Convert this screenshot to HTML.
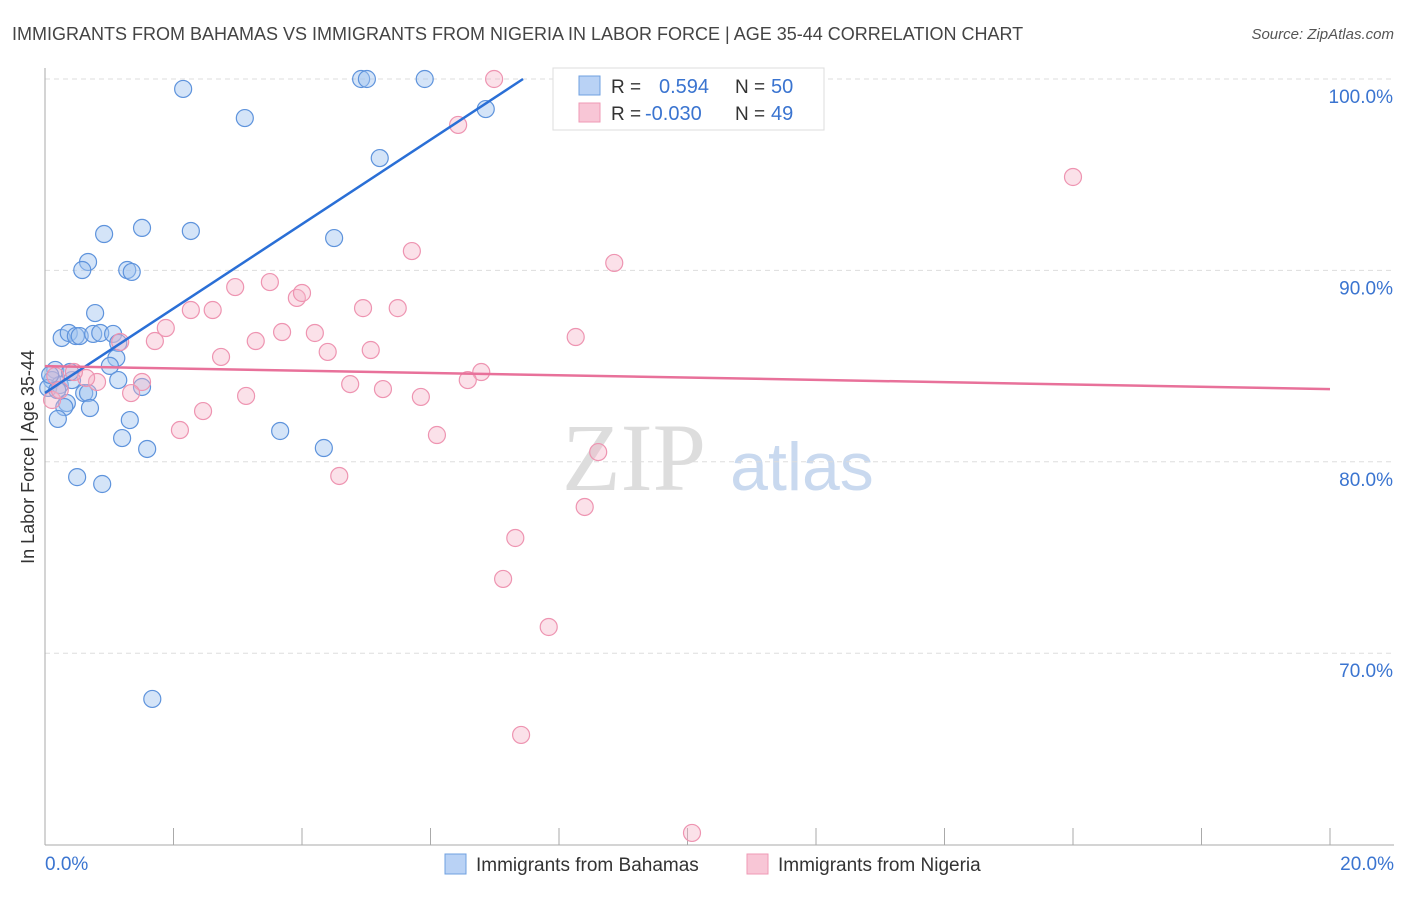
<!DOCTYPE html>
<html><head><meta charset="utf-8"><style>
body{margin:0;background:#fff;font-family:"Liberation Sans",sans-serif;}
svg text{font-family:"Liberation Sans",sans-serif;}
</style></head><body>
<svg id="chart" width="1406" height="892" viewBox="0 0 1406 892">
<text x="12" y="40" font-size="18" fill="#444">IMMIGRANTS FROM BAHAMAS VS IMMIGRANTS FROM NIGERIA IN LABOR FORCE | AGE 35-44 CORRELATION CHART</text>
<text x="1394" y="39" font-size="15" fill="#555" text-anchor="end" font-style="italic">Source: ZipAtlas.com</text>
<text x="634" y="490" font-size="96" fill="#ddd" text-anchor="middle" font-family="Liberation Serif" style="font-family:'Liberation Serif',serif">ZIP</text>
<text x="802" y="490" font-size="68" fill="#c9d9ef" text-anchor="middle">atlas</text>
<g id="grid"></g><g id="axes"></g><g id="pts"></g><g id="lines"></g>
<text transform="translate(34,457) rotate(-90)" font-size="18" fill="#333" text-anchor="middle">In Labor Force | Age 35-44</text>
<g>
<rect x="553" y="68" width="271" height="62" fill="#fff" stroke="#ddd"/>
<rect x="579" y="76" width="21" height="19" fill="#b9d2f5" stroke="#6fa0e0"/>
<rect x="579" y="103" width="21" height="19" fill="#f8c6d6" stroke="#ef9ab5"/>
<text x="611" y="93" font-size="19" fill="#333">R =</text><text x="659" y="93" font-size="20" fill="#3a74d0">0.594</text>
<text x="735" y="93" font-size="19" fill="#333">N =</text><text x="771" y="93" font-size="20" fill="#3a74d0">50</text>
<text x="611" y="120" font-size="19" fill="#333">R =</text><text x="645" y="120" font-size="20" fill="#3a74d0">-0.030</text>
<text x="735" y="120" font-size="19" fill="#333">N =</text><text x="771" y="120" font-size="20" fill="#3a74d0">49</text>
</g>
<g>
<rect x="445" y="854" width="21" height="20" fill="#b9d2f5" stroke="#6fa0e0"/>
<text x="476" y="871" font-size="19" fill="#333">Immigrants from Bahamas</text>
<rect x="747" y="854" width="21" height="20" fill="#f8c6d6" stroke="#ef9ab5"/>
<text x="778" y="871" font-size="19" fill="#333">Immigrants from Nigeria</text>
</g>
</svg>
<script>
const yTicks=[100,90,80,70];
const yTickLabels=["100.0%","90.0%","80.0%","70.0%"];
const xTicks=[0,2,4,6,8,10,12,14,16,18,20];
const xEndLabels=["0.0%","20.0%"];
const bahamasX=[2.15,3.11,4.92,5.01,5.91,6.86,5.21,4.50,1.51,2.27,0.92,0.67,0.58,1.28,1.35,0.78,0.26,0.37,0.48,0.54,0.75,0.86,1.06,1.14,1.11,1.01,0.16,0.11,0.05,0.23,0.42,0.61,0.67,1.14,1.51,0.34,0.30,0.70,0.20,1.32,1.20,1.59,3.66,4.34,0.50,0.89,1.67,0.08,0.19,0.39];
const bahamasY=[99.48,97.96,100,100,100,98.43,95.87,91.69,92.22,92.06,91.90,90.44,90.02,90.02,89.92,87.77,86.47,86.73,86.57,86.57,86.68,86.73,86.68,86.21,85.42,85.01,84.80,84.27,83.86,84.01,84.27,83.59,83.59,84.27,83.91,83.07,82.86,82.81,82.24,82.18,81.24,80.67,81.61,80.72,79.20,78.84,67.61,84.54,83.75,84.69];
const nigeriaX=[6.99,11.91,6.43,16.0,5.71,8.86,3.50,2.96,3.92,4.00,2.27,2.61,4.95,5.49,1.88,1.71,3.28,3.69,4.20,4.40,5.07,1.17,2.74,8.26,6.79,6.58,4.75,5.26,5.85,3.13,1.51,1.34,0.81,0.64,0.45,0.16,0.11,0.23,2.46,2.10,6.10,8.61,4.58,8.40,7.32,7.13,7.84,7.41,10.07];
const nigeriaY=[100,100,97.60,94.88,91.01,90.39,89.39,89.13,88.56,88.82,87.93,87.93,88.03,88.03,86.99,86.31,86.31,86.78,86.73,85.74,85.84,86.26,85.48,86.52,84.69,84.27,84.06,83.80,83.39,83.44,84.17,83.59,84.17,84.38,84.69,84.48,83.23,83.75,82.65,81.66,81.40,80.51,79.26,77.64,76.02,73.88,71.37,65.73,60.61];
const bahamasTrendX=[0,7.44];
const bahamasTrendY=[83.6,100];
const nigeriaTrendX=[0,20];
const nigeriaTrendY=[85.0,83.8];
const NS="http://www.w3.org/2000/svg";
const xs=v=>45+v*64.25;
const ys=v=>79+(100-v)*19.14;
function mk(tag,attrs,parent){const e=document.createElementNS(NS,tag);for(const k in attrs)e.setAttribute(k,attrs[k]);document.getElementById(parent).appendChild(e);return e;}
yTicks.forEach((t,i)=>{
 const l=mk('line',{x1:45,x2:1394,y1:ys(t),y2:ys(t),stroke:'#ddd','stroke-dasharray':'5,4'},'grid');
 
 
 const tx=mk('text',{x:1393,y:ys(t)+24,'font-size':19,fill:'#3a74d0','text-anchor':'end'},'grid');
 tx.textContent=yTickLabels[i];
 
 
});
const ax=mk('line',{x1:45,x2:45,y1:68,y2:845,stroke:'#aaa'},'axes');


const bx=mk('line',{x1:45,x2:1394,y1:845,y2:845,stroke:'#aaa'},'axes');


xTicks.forEach(t=>{
 const l=mk('line',{x1:xs(t),x2:xs(t),y1:828,y2:845,stroke:'#aaa'},'axes');
 
 
});
[[0,'start',45],[20,'end',1394]].forEach((d,i)=>{
 const tx=mk('text',{x:d[2],y:870,'font-size':19,fill:'#3a74d0','text-anchor':d[1]},'axes');
 tx.textContent=xEndLabels[i];
 
 
});
bahamasX.forEach((x,i)=>{
 const c=mk('circle',{cx:xs(x),cy:ys(bahamasY[i]),r:8.5,fill:'rgba(160,195,240,0.45)',stroke:'#5e93dc','stroke-width':1.2},'pts');
 
 
});
nigeriaX.forEach((x,i)=>{
 const c=mk('circle',{cx:xs(x),cy:ys(nigeriaY[i]),r:8.5,fill:'rgba(245,180,200,0.4)',stroke:'#ee94b1','stroke-width':1.2},'pts');
 
 
});
const bl=mk('line',{x1:xs(bahamasTrendX[0]),y1:ys(bahamasTrendY[0]),x2:xs(bahamasTrendX[1]),y2:ys(bahamasTrendY[1]),stroke:'#2a6fd6','stroke-width':2.5},'lines');


const nl=mk('line',{x1:xs(nigeriaTrendX[0]),y1:ys(nigeriaTrendY[0]),x2:xs(nigeriaTrendX[1]),y2:ys(nigeriaTrendY[1]),stroke:'#e8719a','stroke-width':2.5},'lines');


</script>
</body></html>
